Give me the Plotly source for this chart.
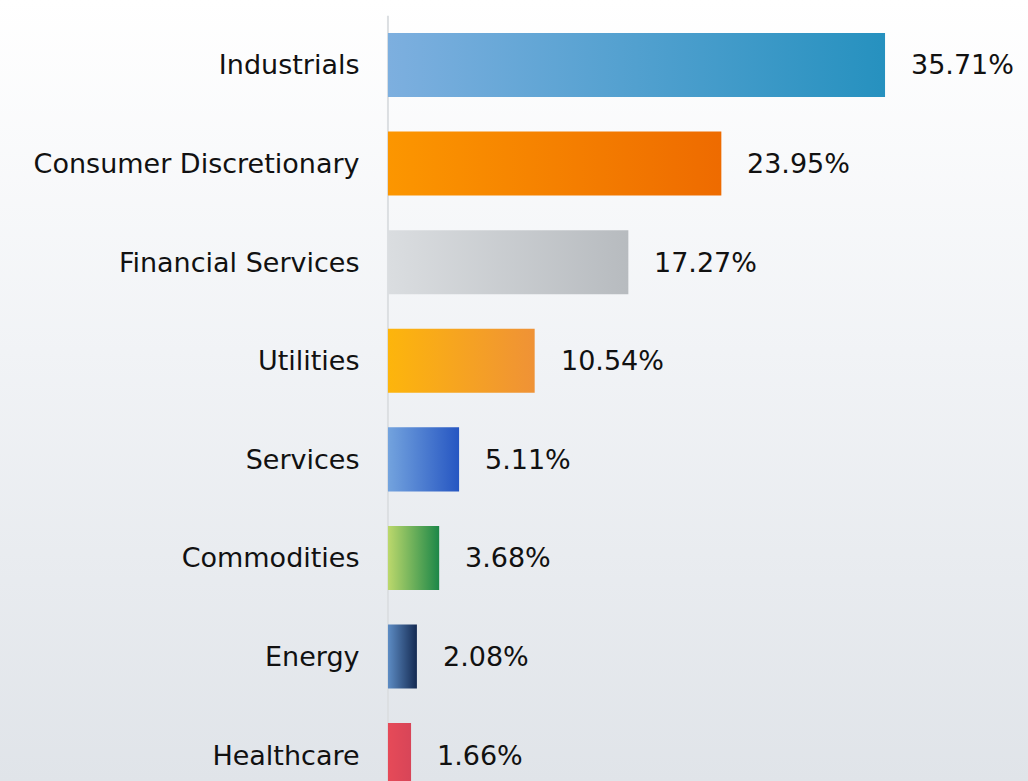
import plotly.graph_objects as go

# Sector weights (%), top to bottom
sectors = ["Industrials", "Consumer Discretionary", "Financial Services", "Utilities",
           "Services", "Commodities", "Energy", "Healthcare"]
weights = [35.71, 23.95, 17.27, 10.54, 5.11, 3.68, 2.08, 1.66]

# Left / right colour of each bar's horizontal gradient
grad_left = ["#7dafdf", "#fc9600", "#dadde0", "#fdb50c", "#73a3de", "#bcd86c", "#5d8cc4", "#e64a58"]
grad_right = ["#2691bf", "#ee6b00", "#b7bbbf", "#ef9236", "#2656c2", "#1c8748", "#142a52", "#d84558"]

FONT = "DejaVu Sans, Arial, sans-serif"
BAR_H = 0.65
X_RANGE = [-27.87, 45.98]
Y_RANGE = [7.262, -0.659]

fig = go.Figure()

# Soft vertical wash behind the whole chart (light at the top, grey-blue at the bottom)
fig.add_trace(go.Scatter(
    x=[X_RANGE[0], X_RANGE[1], X_RANGE[1], X_RANGE[0], X_RANGE[0]],
    y=[Y_RANGE[1], Y_RANGE[1], Y_RANGE[0], Y_RANGE[0], Y_RANGE[1]],
    mode="lines", line=dict(width=0), fill="toself",
    fillgradient=dict(type="vertical",
                      colorscale=[[0, "#e0e4e9"], [0.55, "#f1f3f6"], [1, "#ffffff"]]),
    hoverinfo="skip", showlegend=False,
))

# Baseline
fig.add_trace(go.Scatter(
    x=[0, 0], y=[-0.5, len(sectors) - 0.5], mode="lines",
    line=dict(color="#dcdfe2", width=2), hoverinfo="skip", showlegend=False,
))

# Gradient-filled bars
for i, (name, v) in enumerate(zip(sectors, weights)):
    y0, y1 = i - BAR_H / 2, i + BAR_H / 2
    fig.add_trace(go.Scatter(
        x=[0, v, v, 0, 0], y=[y0, y0, y1, y1, y0],
        mode="lines", line=dict(width=0), fill="toself",
        fillgradient=dict(type="horizontal",
                          colorscale=[[0, grad_left[i]], [1, grad_right[i]]]),
        name=name, showlegend=False,
    ))
    fig.add_annotation(
        x=v, y=i, text=f"{v:.2f}%", showarrow=False,
        xanchor="left", yanchor="middle", xshift=24,
        font=dict(family=FONT, size=27, color="#111111"),
    )

fig.update_layout(
    width=1028, height=781,
    margin=dict(l=0, r=0, t=0, b=0),
    paper_bgcolor="#ffffff", plot_bgcolor="#ffffff",
    xaxis=dict(range=X_RANGE, visible=False, domain=[0, 1]),
    yaxis=dict(
        range=Y_RANGE, anchor="free", position=(0 - X_RANGE[0]) / (X_RANGE[1] - X_RANGE[0]),
        tickmode="array", tickvals=list(range(len(sectors))), ticktext=sectors,
        ticks="outside", ticklen=23, tickcolor="rgba(0,0,0,0)",
        showgrid=False, zeroline=False, showline=False,
        tickfont=dict(family=FONT, size=27, color="#111111"),
    ),
)

fig.write_html("out.html")
